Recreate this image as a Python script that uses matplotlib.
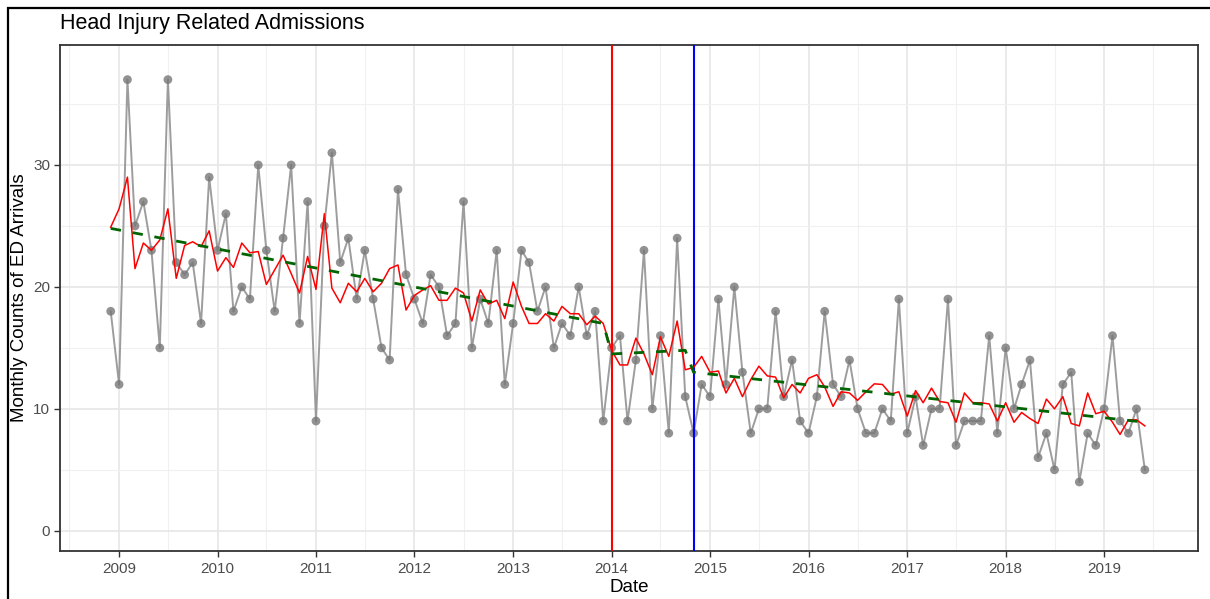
import matplotlib
matplotlib.use("Agg")
import matplotlib.pyplot as plt
import matplotlib.dates as mdates
from matplotlib.patches import Rectangle
import pandas as pd
import numpy as np

plt.rcParams['font.family'] = ['Liberation Sans', 'DejaVu Sans']
plt.rcParams['lines.scale_dashes'] = False

# ---------------- data ----------------
start_month = "2008-12-01"
counts = [18, 12, 37, 25, 27, 23, 15, 37, 22, 21, 22, 17, 29, 23, 26, 18, 20, 19, 30, 23,
          18, 24, 30, 17, 27, 9, 25, 31, 22, 24, 19, 23, 19, 15, 14, 28, 21, 19, 17, 21,
          20, 16, 17, 27, 15, 19, 17, 23, 12, 17, 23, 22, 18, 20, 15, 17, 16, 20, 16, 18,
          9, 15, 16, 9, 14, 23, 10, 16, 8, 24, 11, 8, 12, 11, 19, 12, 20, 13, 8, 10,
          10, 18, 11, 14, 9, 8, 11, 18, 12, 11, 14, 10, 8, 8, 10, 9, 19, 8, 11, 7,
          10, 10, 19, 7, 9, 9, 9, 16, 8, 15, 10, 12, 14, 6, 8, 5, 12, 13, 4, 8,
          7, 10, 16, 9, 8, 10, 5]

predicted = [24.9, 26.4, 29.0, 21.5, 23.6, 23.0, 23.85, 26.4, 20.7, 23.4, 23.7, 23.3, 24.6, 21.3,
             22.4, 21.6, 23.6, 22.8, 22.9, 20.2, 21.4, 22.6, 21.1, 19.5, 22.5, 19.8, 26.0, 19.9,
             18.7, 20.3, 19.6, 20.7, 19.6, 20.3, 21.5, 21.8, 18.1, 19.3, 19.75, 20.1, 18.9, 18.9,
             19.9, 19.5, 17.2, 19.75, 18.6, 18.9, 17.4, 20.4, 18.4, 17.0, 17.0, 17.8, 17.2, 18.4,
             17.8, 17.8, 16.9, 17.6, 17.0, 14.8, 13.6, 13.6, 15.8, 14.5, 12.8, 15.9, 14.3, 17.2,
             13.2, 13.4, 14.3, 13.0, 13.1, 11.3, 12.5, 11.0, 12.4, 13.5, 12.7, 12.6, 10.9, 12.0,
             11.3, 12.5, 12.8, 11.8, 10.2, 11.4, 11.3, 10.7, 11.4, 12.05, 12.0, 11.2, 11.4, 9.4,
             11.5, 10.5, 11.7, 10.6, 10.5, 8.9, 11.3, 10.5, 10.5, 10.4, 9.0, 10.5, 8.9, 9.7,
             9.2, 8.8, 10.8, 10.0, 11.0, 8.8, 8.6, 11.3, 9.6, 9.8, 8.9, 7.9, 9.1, 9.1, 8.6]

trend_dates = ["2008-12-01", "2013-12-01", "2014-01-01", "2014-10-01", "2014-11-01", "2019-06-01"]
trend_values = [24.8, 17.0, 14.5, 14.8, 13.0, 8.9]

intervention_dates = ["2014-01-01", "2014-11-01"]
intervention_colors = ["#FF0000", "#0000FF"]

title = "Head Injury Related Admissions"
x_label = "Date"
y_label = "Monthly Counts of ED Arrivals"
y_ticks = [0, 10, 20, 30]

# ---------------- figure ----------------
W, H = 1210, 599
fig = plt.figure(figsize=(W / 100, H / 100), dpi=100)
ax = fig.add_axes([60 / W, 1 - 551 / H, (1198 - 60) / W, (551 - 45) / H])

dates = pd.date_range(start_month, periods=len(counts), freq="MS")

ax.set_facecolor("white")
ax.grid(True, which="major", color="#E6E6E6", linewidth=1.2, zorder=0)
ax.grid(True, which="minor", color="#F0F0F0", linewidth=0.8, zorder=0)
ax.set_axisbelow(True)

ax.plot(dates, counts, color="#8C8C8C", linewidth=1.4, alpha=0.85, zorder=2)
ax.scatter(dates, counts, s=40, color="#777777", alpha=0.8, edgecolors="none", zorder=2.5)

for d, c in zip(intervention_dates, intervention_colors):
    ax.axvline(pd.Timestamp(d), color=c, linewidth=1.5, zorder=3)

ax.plot(dates, predicted, color="#FF0000", linewidth=1.1, zorder=4)
ax.plot(pd.to_datetime(trend_dates), trend_values, color="#006400", linewidth=2.0,
        dashes=(7.5, 8.5), zorder=5)

ax.set_xlim(pd.Timestamp("2008-05-27"), pd.Timestamp("2019-12-15"))
ax.set_ylim(-1.66, 39.84)

ax.xaxis.set_major_locator(mdates.YearLocator())
ax.xaxis.set_major_formatter(mdates.DateFormatter("%Y"))
ax.xaxis.set_minor_locator(mdates.MonthLocator(bymonth=7, bymonthday=1))
ax.set_yticks(y_ticks)
ax.set_yticks([5, 15, 25, 35], minor=True)

ax.tick_params(axis="both", which="major", length=4, width=1.0, color="#333333",
               labelcolor="#4D4D4D", labelsize=11)
ax.tick_params(axis="both", which="minor", length=0)
ax.tick_params(axis="x", pad=4)
ax.tick_params(axis="y", pad=3)

for s in ax.spines.values():
    s.set_color("#333333")
    s.set_linewidth(1.3)

ax.set_xlabel(x_label, fontsize=13.5, color="black")
ax.set_ylabel(y_label, fontsize=13.5, color="black")
ax.xaxis.set_label_coords(0.5, -(588 - 551) / (551 - 45))
ax.yaxis.set_label_coords(-(60 - 20) / (1198 - 60), 0.5)
ax.xaxis.label.set_va("center")
ax.yaxis.label.set_va("center")

fig.text(60 / W, 1 - 23 / H, title, fontsize=15.5, color="black", ha="left", va="center")

# outer black frame of the document figure
fig.patches.append(Rectangle((8 / W, -0.1), 1.2, 1 - 8 / H + 0.1, transform=fig.transFigure,
                             fill=False, edgecolor="black", linewidth=1.6, zorder=10))

fig.savefig("out.png", dpi=100)
